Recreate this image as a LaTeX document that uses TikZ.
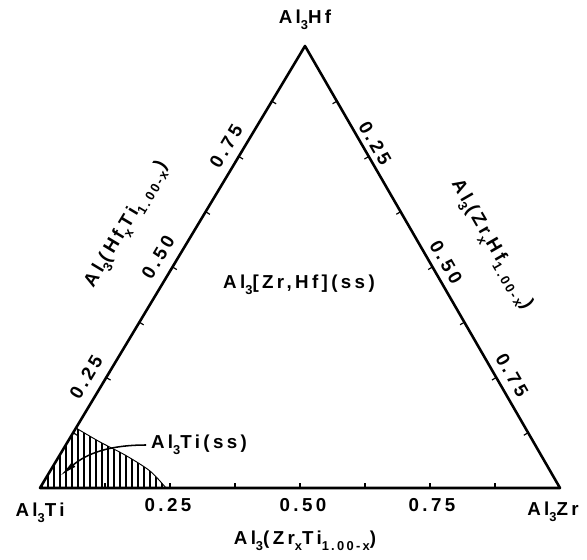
\documentclass[tikz,border=0pt]{standalone}
\usepackage{fontspec}
\newfontfamily\labfont{Liberation Sans}[LetterSpace=18]
\usetikzlibrary{arrows.meta,calc}
\newcommand\dn[1]{\raisebox{-0.6ex}{\fontsize{11}{11}\selectfont #1}}

\begin{document}
\begin{tikzpicture}[
x=0.03cm, y=0.03cm,
lbl/.style={font=\labfont\bfseries\fontsize{16}{18}\selectfont, inner sep=0pt},
edge/.style={line width=2.2pt, line join=round},
tick/.style={line width=1pt},
leftlbl/.style={lbl, rotate=59},
rightlbl/.style={lbl, rotate=-60},
hatch/.style={line width=1.1pt},
arrow/.style={-{Latex[length=15pt,width=5pt]}, line width=1.3pt}
]

\useasboundingbox (0,0) rectangle (587,559);

\coordinate (ti) at (40,71);
\coordinate (zr) at (560,71);
\coordinate (hf) at (305,513);

\begin{scope}
\clip (ti) -- plot[smooth] coordinates {(76,131) (100,117) (125,104) (150,88) (166,71)} -- cycle;
\foreach \x in {42,48,...,168}
  \draw[hatch] (\x,71) -- (\x,135);
\end{scope}
\draw[line width=0.8pt] plot[smooth] coordinates {(76,131) (100,117) (125,104) (150,88) (166,71)};

\draw[edge] (ti) -- (zr) -- (hf) -- cycle;

\foreach \t in {0.125,0.25,0.375,0.5,0.625,0.75,0.875} {
  \draw[tick] ($(ti)!\t!(zr)$) -- ++(0,5);
  \draw[tick] ($(ti)!\t!(hf)$) -- ++(4.3,-2.6);
  \draw[tick] ($(hf)!\t!(zr)$) -- ++(-4.3,-2.5);
}

\node[lbl] (hfname) at (305,539) {Al\dn{3}Hf};
\node[lbl] (tiname) at (40,46) {Al\dn{3}Ti};
\node[lbl] (zrname) at (553,47) {Al\dn{3}Zr};

\node[lbl] (b25) at (168,54) {0.25};
\node[lbl] (b50) at (303,54) {0.50};
\node[lbl] (b75) at (432,54) {0.75};
\node[lbl] (btitle) at (305,18) {Al\dn{3}(Zr\dn{x}Ti\dn{1.00-x})};

\node[leftlbl] (l25) at (86,182) {0.25};
\node[leftlbl] (l50) at (158,302) {0.50};
\node[leftlbl] (l75) at (226,413) {0.75};
\node[leftlbl] (ltitle) at (127,334) {Al\dn{3}(Hf\dn{x}Ti\dn{1.00-x})};

\node[rightlbl] (r25) at (375,416) {0.25};
\node[rightlbl] (r50) at (446,297) {0.50};
\node[rightlbl] (r75) at (512,184) {0.75};
\node[rightlbl] (rtitle) at (491,314) {Al\dn{3}(Zr\dn{x}Hf\dn{1.00-x})};

\node[lbl] (ssmain) at (299,274) {Al\dn{3}[Zr,Hf](ss)};
\node[lbl] (ssti) at (199,114) {Al\dn{3}Ti(ss)};
\coordinate (tip) at (60,83);
\draw[arrow] ([xshift=-4pt]ssti.west) to[out=180,in=40] (tip);

\end{tikzpicture}
\end{document}
